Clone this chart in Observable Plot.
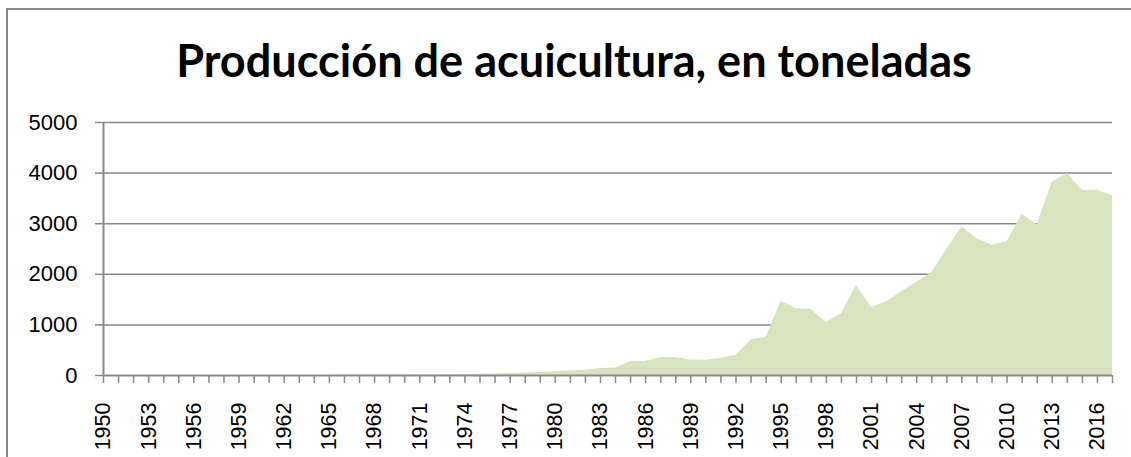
<!DOCTYPE html>
<html><head><meta charset="utf-8">
<script src="https://cdn.jsdelivr.net/npm/d3@7"></script>
<script src="https://cdn.jsdelivr.net/npm/@observablehq/plot@0.6"></script>
<style>
html,body{margin:0;padding:0;background:#fff;overflow:hidden;width:1131px;height:457px}
#frame{position:absolute;left:6px;top:8px;width:1200px;height:600px;border-left:2px solid #898989;border-top:2px solid #898989;box-sizing:border-box;z-index:5;pointer-events:none}
#wrap{position:absolute;left:0;top:0;width:1131px}
#title{position:relative;height:100px;width:1131px}
#title span{position:absolute;top:32px;white-space:nowrap;font-family:Lato,"Open Sans",sans-serif;font-weight:bold;font-size:44px;color:#000;line-height:normal}
#chart svg{display:block}
</style></head>
<body>
<div id="frame"></div>
<div id="wrap">
  <div id="title"><span id="t">Producción de acuicultura, en toneladas</span></div>
  <div id="chart"></div>
</div>
<script>
const years = [1950,1951,1952,1953,1954,1955,1956,1957,1958,1959,
  1960,1961,1962,1963,1964,1965,1966,1967,1968,1969,
  1970,1971,1972,1973,1974,1975,1976,1977,1978,1979,
  1980,1981,1982,1983,1984,1985,1986,1987,1988,1989,
  1990,1991,1992,1993,1994,1995,1996,1997,1998,1999,
  2000,2001,2002,2003,2004,2005,2006,2007,2008,2009,
  2010,2011,2012,2013,2014,2015,2016,2017];
const tonnes = [0,0,0,0,0,0,0,0,0,0,
  0,0,1,1,2,2,3,3,4,5,
  6,8,10,13,18,25,32,42,50,60,
  72,88,105,140,150,276,276,355,355,302,
  302,342,395,700,757,1464,1320,1306,1046,1220,
  1773,1342,1458,1653,1844,2035,2490,2938,2701,2575,
  2642,3182,2978,3820,3992,3656,3662,3557];
const yTicks = [0,1000,2000,3000,4000,5000];
const gridValues = [1000,2000,3000,4000,5000];
const labelYears = [1950,1953,1956,1959,1962,1965,1968,1971,1974,1977,1980,1983,1986,1989,1992,1995,1998,2001,2004,2007,2010,2013,2016];

const data = years.map((y,i)=>({year:y, value:tonnes[i]}));
const gray = "#898989";

// fit title width
const t = document.getElementById("t");
const target = 796;
let fs = 44;
t.style.fontSize = fs + "px";
fs = fs * target / t.getBoundingClientRect().width;
t.style.fontSize = fs + "px";
const w = t.getBoundingClientRect().width;
t.style.left = (574 - w/2) + "px";

const chart = Plot.plot({
  width: 1131,
  height: 357,
  marginTop: 22,
  marginBottom: 82,
  marginLeft: 103,
  marginRight: 19,
  style: {fontFamily: "'Liberation Sans', Arial, sans-serif", background: "transparent", color: "#000"},
  x: {type: "linear", domain: [1950, 2017], axis: null},
  y: {domain: [0, 5000], axis: null},
  marks: [
    Plot.ruleY(gridValues, {x1: 1950, x2: 2017, stroke: gray, strokeWidth: 1.5}),
    Plot.areaY(data, {x: "year", y: "value", fill: "#d7e4bd"}),
    Plot.ruleY([0], {x1: 1950, x2: 2017, stroke: gray, strokeWidth: 2}),
    Plot.ruleX([1950], {y1: 0, y2: 5000, stroke: gray, strokeWidth: 2}),
    Plot.axisY({ticks: yTicks, tickSize: 8, tickPadding: 18, fontSize: 22, stroke: gray, fill: "#000", tickFormat: d => String(d), strokeWidth: 1.5, label: null}),
    Plot.axisX({ticks: years, tickSize: 8, tickFormat: () => "", stroke: gray, strokeWidth: 1.5, label: null}),
    Plot.axisX({ticks: labelYears, tickSize: 0, tickPadding: 27, tickRotate: -90, fontSize: 21.5, fill: "#000", tickFormat: d => String(d), label: null})
  ]
});
document.getElementById("chart").appendChild(chart);
</script>
</body></html>
